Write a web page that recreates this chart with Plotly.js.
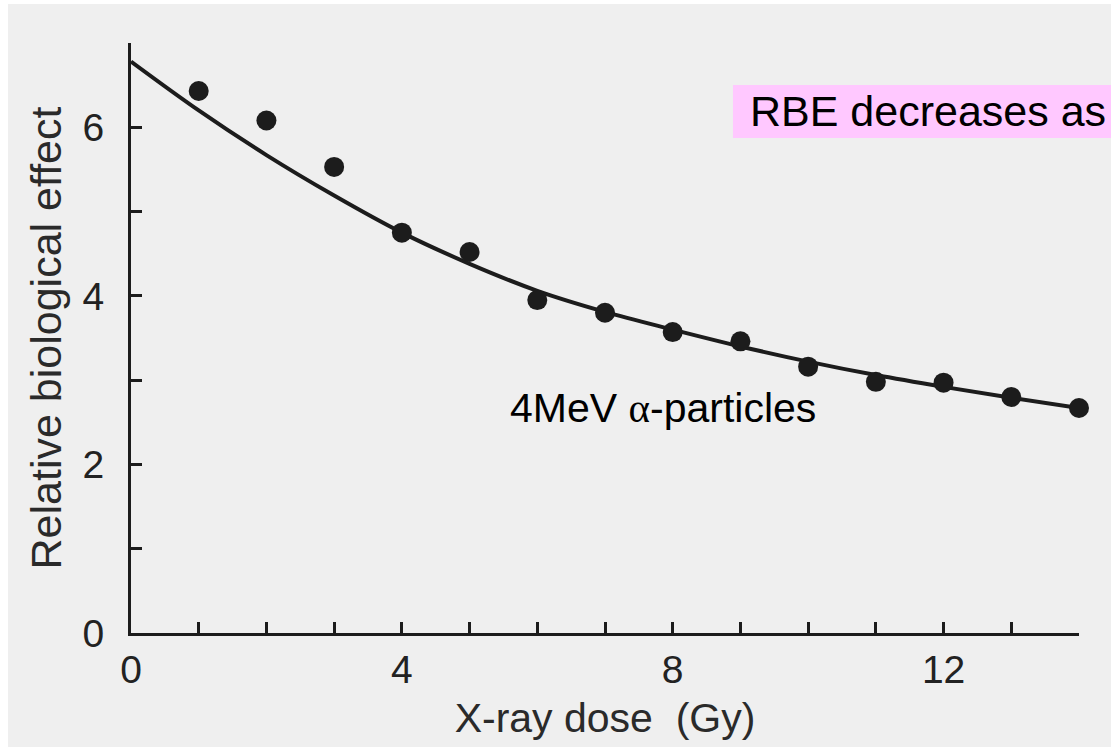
<!DOCTYPE html>
<html>
<head>
<meta charset="utf-8">
<script src="https://cdn.plot.ly/plotly-3.0.1.min.js"></script>
<style>
  html, body { margin: 0; padding: 0; background: #ffffff; }
  #chart { position: absolute; left: 8px; top: 4px; width: 1103px; height: 743px; }
</style>
</head>
<body>
<div id="chart"></div>
<script>
// Measured RBE of 4 MeV alpha particles against the X-ray reference dose
const doses = [1, 2, 3, 4, 5, 6, 7, 8, 9, 10, 11, 12, 13, 14];
const rbeMeasured = [6.43, 6.08, 5.53, 4.75, 4.52, 3.95, 3.80, 3.57, 3.46, 3.16, 2.98, 2.97, 2.80, 2.67];

// Fitted curve through the measurements
const fitDoses = [0, 1, 2, 3, 4, 5, 6, 7, 8, 9, 10, 11, 12, 13, 14];
const rbeFit = [6.78, 6.20, 5.67, 5.19, 4.75, 4.38, 4.06, 3.81, 3.60, 3.40, 3.22, 3.06, 2.92, 2.79, 2.67];

// Axis ticks: a tick at every unit, labels only on some
const xTickVals = [0, 1, 2, 3, 4, 5, 6, 7, 8, 9, 10, 11, 12, 13, 14];
const xTickText = ['0', '', '', '', '4', '', '', '', '8', '', '', '', '12', '', ''];
const yTickVals = [0, 1, 2, 3, 4, 5, 6, 7];
const yTickText = ['0', '', '2', '', '4', '', '6', ''];

const ink = '#1c1c1c';
const paper = '#efefef';
const sans = 'Liberation Sans, Arial, Helvetica, sans-serif';

const traces = [
  {
    x: fitDoses, y: rbeFit,
    type: 'scatter', mode: 'lines',
    line: { color: ink, width: 4, shape: 'spline', smoothing: 1 },
    cliponaxis: false,
    hoverinfo: 'skip', showlegend: false
  },
  {
    x: doses, y: rbeMeasured,
    type: 'scatter', mode: 'markers',
    marker: { color: ink, size: 20, line: { width: 0 } },
    cliponaxis: false,
    showlegend: false
  }
];

const axisCommon = {
  showgrid: false, zeroline: false,
  showline: true, linecolor: ink, linewidth: 3,
  ticks: 'inside', ticklen: 11, tickwidth: 3, tickcolor: ink,
  tickmode: 'array',
  tickfont: { family: sans, size: 39, color: '#222222' },
  fixedrange: true
};

const layout = {
  width: 1103, height: 743,
  margin: { l: 123, r: 32, t: 39, b: 114 },
  paper_bgcolor: paper, plot_bgcolor: paper,
  font: { family: sans, color: '#222222' },
  showlegend: false,
  xaxis: Object.assign({}, axisCommon, {
    range: [0, 14],
    tickvals: xTickVals, ticktext: xTickText,
    ticklabelstandoff: 0,
    title: { text: 'X-ray dose\u00a0\u00a0(Gy)', font: { family: sans, size: 41, color: '#2a2a2a' }, standoff: 14 }
  }),
  yaxis: Object.assign({}, axisCommon, {
    range: [0, 7],
    tickvals: yTickVals, ticktext: yTickText,
    ticklabelstandoff: 16,
    title: { text: 'Relative biological effect', font: { family: sans, size: 43, color: '#2a2a2a' }, standoff: 8 }
  }),
  shapes: [
    {
      type: 'rect', xref: 'paper', yref: 'paper',
      x0: 0.635, x1: 1.05, y0: 0.839, y1: 0.929,
      fillcolor: '#ffc8ff', line: { width: 0 }, layer: 'above'
    }
  ],
  annotations: [
    {
      xref: 'paper', yref: 'paper', x: 0.651, y: 0.884,
      xanchor: 'left', yanchor: 'middle', showarrow: false,
      text: 'RBE decreases as',
      font: { family: sans, size: 43, color: '#000000' }
    },
    {
      xref: 'paper', yref: 'paper', x: 0.561, y: 0.381,
      xanchor: 'center', yanchor: 'middle', showarrow: false,
      text: '4MeV <span style="font-family:Liberation Serif">\u03b1</span>-particles',
      font: { family: sans, size: 41, color: '#000000' }
    }
  ]
};

Plotly.newPlot('chart', traces, layout, { displayModeBar: false, staticPlot: true });
</script>
</body>
</html>
